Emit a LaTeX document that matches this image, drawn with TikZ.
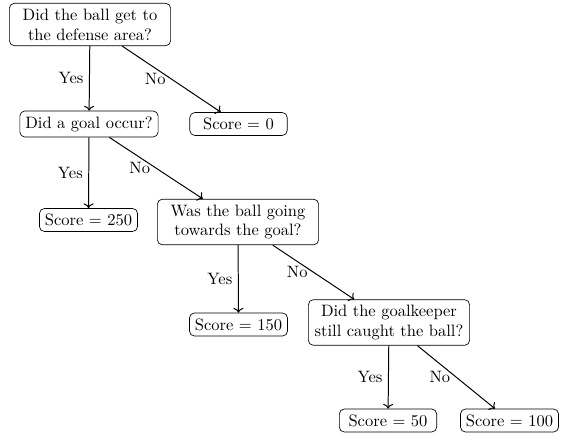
\documentclass[tikz,border=0pt]{standalone}
\usetikzlibrary{arrows.meta}
\begin{document}
\begin{tikzpicture}[x=0.6061pt,y=-0.6061pt,
  qbox/.style={draw, rounded corners=3pt, align=center, text width=3.2cm, inner sep=3.33pt},
  sbox/.style={draw, rounded corners=3pt, minimum width=59pt, inner sep=3.33pt},
  arr/.style={->, semithick},
  lbl/.style={midway, left}]
\useasboundingbox (0,0) rectangle (561,439);
\node[qbox] (q1) at (90,24.5) {Did the ball get to\\the defense area?};
\node[sbox] (q2) at (89,124) {Did a goal occur?};
\node[sbox] (s0) at (238.5,124) {Score = 0};
\node[sbox] (s250) at (88.5,220) {Score = 250};
\node[qbox] (q3) at (238,222) {Was the ball going\\towards the goal?};
\node[sbox] (s150) at (238.5,324.5) {Score = 150};
\node[qbox] (q4) at (389,322.5) {Did the goalkeeper\\still caught the ball?};
\node[sbox] (s50) at (388,420.5) {Score = 50};
\node[sbox] (s100) at (509.5,420.5) {Score = 100};
\draw[arr] (q1) -- node[lbl] {Yes} (q2);
\draw[arr] (q1) -- node[lbl] {No} (s0);
\draw[arr] (q2) -- node[lbl] {Yes} (s250);
\draw[arr] (q2) -- node[lbl] {No} (q3);
\draw[arr] (q3) -- node[lbl] {Yes} (s150);
\draw[arr] (q3) -- node[lbl] {No} (q4);
\draw[arr] (q4) -- node[lbl] {Yes} (s50);
\draw[arr] (q4) -- node[lbl] {No} (s100);
\end{tikzpicture}
\end{document}
